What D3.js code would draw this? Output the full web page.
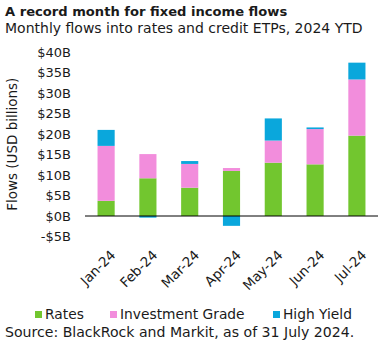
<!DOCTYPE html>
<html>
<head>
<meta charset="utf-8">
<script src="https://d3js.org/d3.v7.min.js"></script>
<style>
  body { margin: 0; background: #fff; }
  text { font-family: "DejaVu Sans", sans-serif; fill: #1a1a1a; }
</style>
</head>
<body>
<script>
// data (USD billions)
var months = ["Jan-24", "Feb-24", "Mar-24", "Apr-24", "May-24", "Jun-24", "Jul-24"];
var rates = [3.7, 9.2, 6.9, 11.0, 13.0, 12.6, 19.6];
var investmentGrade = [13.4, 5.9, 5.8, 0.7, 5.4, 8.6, 13.7];
var highYield = [3.9, -0.4, 0.7, -2.4, 5.4, 0.4, 4.1];
var yTicks = [-5, 0, 5, 10, 15, 20, 25, 30, 35, 40];

var seriesNames = ["Rates", "Investment Grade", "High Yield"];
var colors = ["#72c62f", "#f28ddc", "#0aa7dc"];

var W = 384, H = 347;
var svg = d3.select("body").append("svg").attr("width", W).attr("height", H);

svg.append("text").attr("x", 5).attr("y", 16)
  .style("font-weight", "bold").style("font-size", "13.1px")
  .text("A record month for fixed income flows");
svg.append("text").attr("x", 5).attr("y", 33)
  .style("font-size", "14px")
  .text("Monthly flows into rates and credit ETPs, 2024 YTD");

var x = d3.scaleBand().domain(months).range([85, 378]).paddingInner(0.59).paddingOuter(0.3);
var y = d3.scaleLinear().domain([-5, 40]).range([236.5, 52]);

// stack: positives go up from 0, negatives go down from 0
var rows = months.map(function(m, i) {
  return { month: m, vals: [rates[i], investmentGrade[i], highYield[i]] };
});
var rects = [];
rows.forEach(function(r) {
  var pos = 0, neg = 0;
  r.vals.forEach(function(v, k) {
    var y0, y1;
    if (v >= 0) { y0 = pos; y1 = pos + v; pos = y1; }
    else { y0 = neg + v; y1 = neg; neg = y0; }
    rects.push({ month: r.month, k: k, y0: y0, y1: y1 });
  });
});

svg.selectAll("rect.bar").data(rects).enter().append("rect")
  .attr("class", "bar")
  .attr("x", function(d) { return x(d.month); })
  .attr("width", x.bandwidth())
  .attr("y", function(d) { return y(d.y1); })
  .attr("height", function(d) { return y(d.y0) - y(d.y1); })
  .attr("fill", function(d) { return colors[d.k]; });

// zero line
svg.append("line")
  .attr("x1", 85).attr("x2", 378)
  .attr("y1", y(0)).attr("y2", y(0))
  .attr("stroke", "#000").attr("stroke-width", 1);

// y axis
var yAxis = svg.append("g").attr("transform", "translate(71,0)")
  .call(d3.axisLeft(y).tickValues(yTicks).tickSize(0).tickPadding(0)
    .tickFormat(function(d) { return (d < 0 ? "-$" : "$") + Math.abs(d) + "B"; }));
yAxis.select(".domain").remove();
yAxis.selectAll("text").style("font-size", "13px").style("font-family", "DejaVu Sans, sans-serif").attr("fill", "#1a1a1a");

svg.append("text")
  .attr("transform", "translate(17," + y(17.5) + ") rotate(-90)")
  .attr("text-anchor", "middle")
  .style("font-size", "13.5px")
  .text("Flows (USD billions)");

// x axis
var xAxis = svg.append("g").attr("transform", "translate(0," + (y(-5) + 16) + ")")
  .call(d3.axisBottom(x).tickSize(0).tickPadding(0));
xAxis.select(".domain").remove();
xAxis.selectAll("text")
  .style("font-size", "13.5px").style("font-family", "DejaVu Sans, sans-serif").attr("fill", "#1a1a1a")
  .attr("text-anchor", "end")
  .attr("dy", "0.35em")
  .attr("transform", "translate(7,0) rotate(-45)");

// legend
var legX = [35, 110, 273];
var leg = svg.selectAll("g.leg").data(seriesNames).enter().append("g")
  .attr("class", "leg")
  .attr("transform", function(d, i) { return "translate(" + legX[i] + ",311)"; });
leg.append("rect").attr("width", 7).attr("height", 7)
  .attr("fill", function(d, i) { return colors[i]; });
leg.append("text").attr("x", 10).attr("y", 8).style("font-size", "13.8px")
  .text(function(d) { return d; });

svg.append("text").attr("x", 5).attr("y", 337).style("font-size", "14.1px")
  .text("Source: BlackRock and Markit, as of 31 July 2024.");
</script>
</body>
</html>
